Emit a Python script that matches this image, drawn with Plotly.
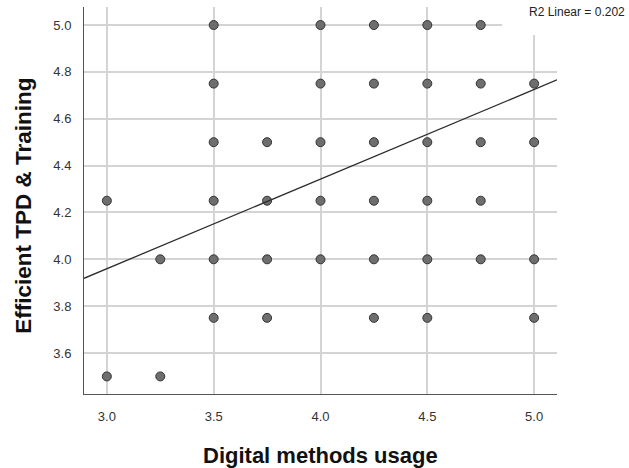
import plotly.graph_objects as go

# Data (x = Digital methods usage, y = Efficient TPD & Training)
x_vals = [3.0, 3.0,
          3.25, 3.25,
          3.5, 3.5, 3.5, 3.5, 3.5, 3.5,
          3.75, 3.75, 3.75, 3.75,
          4.0, 4.0, 4.0, 4.0, 4.0,
          4.25, 4.25, 4.25, 4.25, 4.25, 4.25,
          4.5, 4.5, 4.5, 4.5, 4.5, 4.5,
          4.75, 4.75, 4.75, 4.75, 4.75,
          5.0, 5.0, 5.0, 5.0]
y_vals = [4.25, 3.5,
          4.0, 3.5,
          5.0, 4.75, 4.5, 4.25, 4.0, 3.75,
          4.5, 4.25, 4.0, 3.75,
          5.0, 4.75, 4.5, 4.25, 4.0,
          5.0, 4.75, 4.5, 4.25, 4.0, 3.75,
          5.0, 4.75, 4.5, 4.25, 4.0, 3.75,
          5.0, 4.75, 4.5, 4.25, 4.0,
          4.75, 4.5, 4.0, 3.75]

fit_intercept = 2.812
fit_slope = 0.3826
r2_text = "R2 Linear = 0.202"
x_title = "Digital methods usage"
y_title = "Efficient TPD &amp; Training"

x_range = [2.893, 5.107]
y_range = [3.425, 5.077]
x_ticks = [3.0, 3.5, 4.0, 4.5, 5.0]
y_ticks = [3.6, 3.8, 4.0, 4.2, 4.4, 4.6, 4.8, 5.0]

FONT = "Liberation Sans, Arial, sans-serif"

fig = go.Figure()
fig.add_trace(go.Scatter(
    x=x_vals, y=y_vals, mode="markers",
    marker=dict(size=9, color="#6e6e6e", line=dict(color="#333333", width=1)),
    showlegend=False, hoverinfo="x+y"))

fit_x = x_range
fit_y = [fit_intercept + fit_slope * v for v in fit_x]
fig.add_trace(go.Scatter(
    x=fit_x, y=fit_y, mode="lines",
    line=dict(color="#2b2b2b", width=1.3),
    showlegend=False, hoverinfo="skip"))

# white box behind the R2 label (covers gridlines)
fig.add_shape(type="rect", xref="x", yref="y", x0=4.85, x1=5.3, y0=4.957, y1=5.3,
              fillcolor="white", line=dict(width=0), layer="between")

fig.add_annotation(text=r2_text, xref="paper", yref="paper", x=1.148, y=0.987,
                   xanchor="right", yanchor="middle", showarrow=False,
                   font=dict(family=FONT, size=12, color="#222222"))

fig.add_annotation(text="<b>" + x_title + "</b>", xref="paper", yref="paper", x=0.5, y=-0.160,
                   xanchor="center", yanchor="middle", showarrow=False,
                   font=dict(family=FONT, size=22, color="#111111"))
fig.add_annotation(text="<b>" + y_title + "</b>", xref="paper", yref="paper", x=-0.127, y=0.486,
                   xanchor="center", yanchor="middle", showarrow=False, textangle=-90,
                   font=dict(family=FONT, size=22.5, color="#111111"))

fig.update_layout(
    width=629, height=468,
    margin=dict(l=84, r=72, t=7, b=74, autoexpand=False),
    paper_bgcolor="white", plot_bgcolor="white",
    font=dict(family=FONT, color="#333333"),
)
fig.update_xaxes(
    range=x_range, tickvals=x_ticks, ticktext=[f"{v:.1f}" for v in x_ticks],
    showgrid=True, gridcolor="#d4d4d4", gridwidth=1.5,
    showline=True, linecolor="#555555", linewidth=1, zeroline=False,
    ticks="", ticklabelstandoff=10, tickfont=dict(size=13, color="#333333"),
)
fig.update_yaxes(
    range=y_range, tickvals=y_ticks, ticktext=[f"{v:.1f}" for v in y_ticks],
    showgrid=True, gridcolor="#d4d4d4", gridwidth=1.5,
    showline=True, linecolor="#555555", linewidth=1, zeroline=False,
    ticks="", ticklabelstandoff=9, tickfont=dict(size=13, color="#333333"),
)

fig.write_html("out.html", config={"displayModeBar": False},
               post_script="document.body.style.margin='0';")
